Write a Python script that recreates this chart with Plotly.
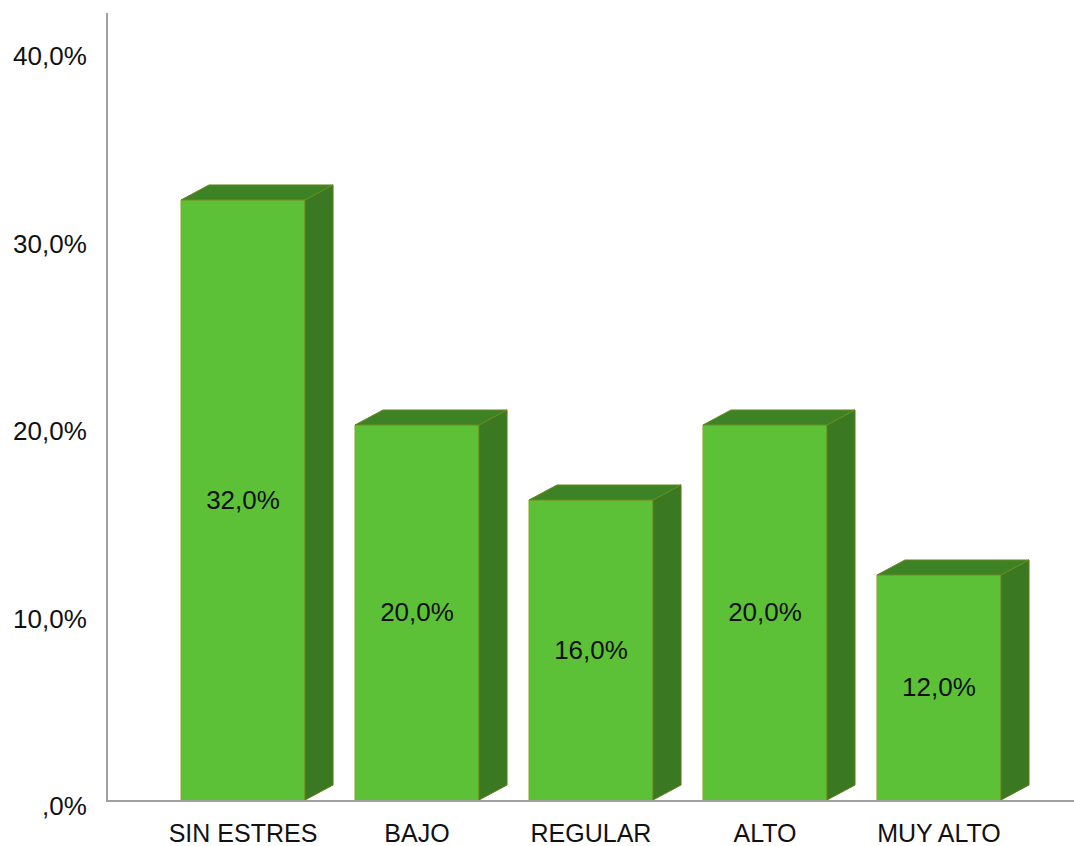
import plotly.graph_objects as go

categories = ["SIN ESTRES", "BAJO", "REGULAR", "ALTO", "MUY ALTO"]
values = [32.0, 20.0, 16.0, 20.0, 12.0]
bar_labels = ["32,0%", "20,0%", "16,0%", "20,0%", "12,0%"]
y_tick_vals = [0, 10, 20, 30, 40]
y_tick_text = [",0%", "10,0%", "20,0%", "30,0%", "40,0%"]

FRONT = "#5DC138"
SIDE = "#3A7922"
TOP = "#3E8226"
EDGE = "#8FA82A"
BAR_W = 0.713
DX = 0.161   # depth offset in x units
DY = 0.80    # depth offset in y units
FONT = "Liberation Sans, Arial, sans-serif"

xs = list(range(len(categories)))

side_x, side_y, top_x, top_y = [], [], [], []
for x, v in zip(xs, values):
    r = x + BAR_W / 2
    l = x - BAR_W / 2
    side_x += [r, r + DX, r + DX, r, r, None]
    side_y += [0, DY, v + DY, v, 0, None]
    top_x += [l, l + DX, r + DX, r, l, None]
    top_y += [v, v + DY, v + DY, v, v, None]

fig = go.Figure()
fig.add_trace(go.Bar(
    x=xs, y=values, width=BAR_W,
    marker=dict(color=FRONT, line=dict(color=EDGE, width=1)),
    text=bar_labels, textposition="inside", insidetextanchor="middle",
    textangle=0, textfont=dict(family=FONT, size=26, color="#111111"),
    hoverinfo="skip", showlegend=False,
))
fig.add_trace(go.Scatter(
    x=side_x, y=side_y, mode="lines", fill="toself", fillcolor=SIDE,
    line=dict(color="#5E7F1E", width=1), hoverinfo="skip", showlegend=False,
))
fig.add_trace(go.Scatter(
    x=top_x, y=top_y, mode="lines", fill="toself", fillcolor=TOP,
    line=dict(color="#6A8A22", width=1), hoverinfo="skip", showlegend=False,
))

fig.update_layout(
    width=1074, height=846,
    margin=dict(l=108, r=0, t=13, b=46, autoexpand=False),
    paper_bgcolor="white", plot_bgcolor="white",
    showlegend=False,
    font=dict(family=FONT, size=26, color="#111111"),
    xaxis=dict(
        range=[-0.776, 4.776], tickvals=xs, ticktext=categories,
        showgrid=False, zeroline=False, showline=True,
        linecolor="#A0A0A0", linewidth=2, ticks="",
        ticklabelstandoff=10, tickfont=dict(size=25),
        fixedrange=True,
    ),
    yaxis=dict(
        range=[0, 41.97], tickvals=y_tick_vals, ticktext=y_tick_text,
        showgrid=False, zeroline=False, showline=True,
        linecolor="#A0A0A0", linewidth=2, ticks="",
        ticklabelstandoff=14, ticklabelshift=6, tickfont=dict(size=26),
        fixedrange=True,
    ),
)

fig.write_html("out.html")
